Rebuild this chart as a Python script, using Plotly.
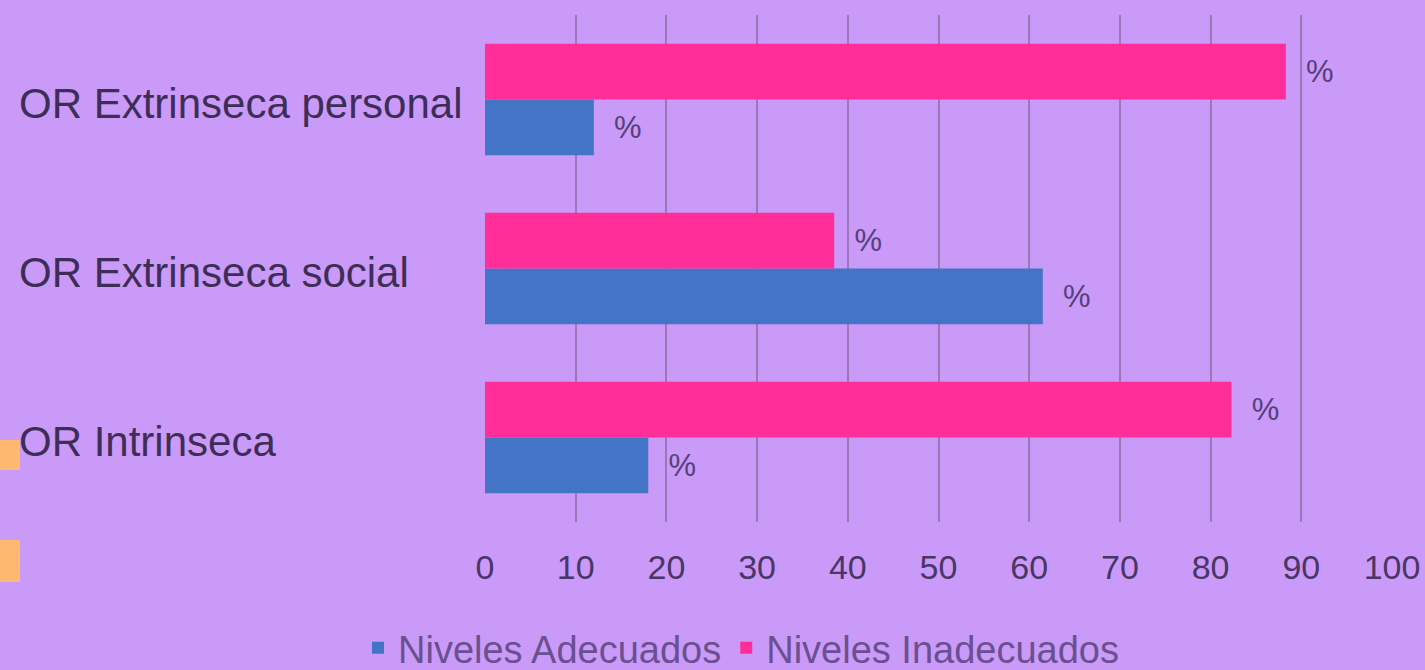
import plotly.graph_objects as go

categories = ["OR Intrinseca", "OR Extrinseca social", "OR Extrinseca personal"]
adecuados = [18, 61.5, 12]
inadecuados = [82.3, 38.5, 88.3]
label_text = "  %"
x_ticks = [0, 10, 20, 30, 40, 50, 60, 70, 80, 90, 100]

BG = "#C99AF8"
TXT = "#3e2d57"

fig = go.Figure()
fig.add_trace(go.Bar(
    y=categories, x=adecuados, orientation="h", name="Niveles Adecuados",
    marker=dict(color="#4474C6", line=dict(width=0)),
    text=[label_text] * len(categories), textposition="outside",
    textfont=dict(size=31, color="#56407a", family="Liberation Sans"),
    cliponaxis=False,
))
fig.add_trace(go.Bar(
    y=categories, x=inadecuados, orientation="h", name="Niveles Inadecuados",
    marker=dict(color="#FF2E98", line=dict(width=0)),
    text=[label_text] * len(categories), textposition="outside",
    textfont=dict(size=31, color="#56407a", family="Liberation Sans"),
    cliponaxis=False,
))

annotations = []
for c in categories:
    annotations.append(dict(
        xref="paper", yref="y", x=(17 - 485) / 907, y=c, xanchor="left", yanchor="middle",
        yshift=-4,
        text=c, showarrow=False, font=dict(size=42, color=TXT, family="Liberation Sans"),
    ))

shapes = [
    dict(type="rect", xref="paper", yref="paper", x0=-485 / 907, x1=(20 - 485) / 907,
         y0=(522 - 470) / 507, y1=(522 - 440) / 507, fillcolor="#FFB870", line=dict(width=0)),
    dict(type="rect", xref="paper", yref="paper", x0=-485 / 907, x1=(20 - 485) / 907,
         y0=(522 - 582) / 507, y1=(522 - 540) / 507, fillcolor="#FFB870", line=dict(width=0)),
]

fig.update_layout(
    width=1425, height=670,
    paper_bgcolor=BG, plot_bgcolor=BG,
    margin=dict(l=485, r=33, t=15, b=148, autoexpand=False),
    barmode="group", bargap=0.34, bargroupgap=0,
    showlegend=True,
    legend=dict(orientation="h", xref="container", yref="container",
                x=741 / 1425, xanchor="center", y=(670 - 648) / 670, yanchor="middle",
                font=dict(size=38, color="#6a5090", family="Liberation Sans"),
                itemwidth=30, bgcolor="rgba(0,0,0,0)"),
    annotations=annotations,
    shapes=shapes,
    font=dict(family="Liberation Sans"),
)
fig.update_xaxes(
    range=[0, 100], tickvals=x_ticks, ticktext=[str(v) for v in x_ticks],
    showgrid=True, gridcolor="#9a78b8", gridwidth=1.5, zeroline=False,
    tickfont=dict(size=34, color="#4a3566"),
    ticks="outside", ticklen=15, tickcolor=BG, showline=False, automargin=False,
)
fig.update_yaxes(showticklabels=False, showgrid=False, zeroline=False, showline=False, automargin=False)

fig.write_html("out.html", config={"displayModeBar": False},
               post_script="document.body.style.margin='0';document.body.style.background='" + BG + "';")
